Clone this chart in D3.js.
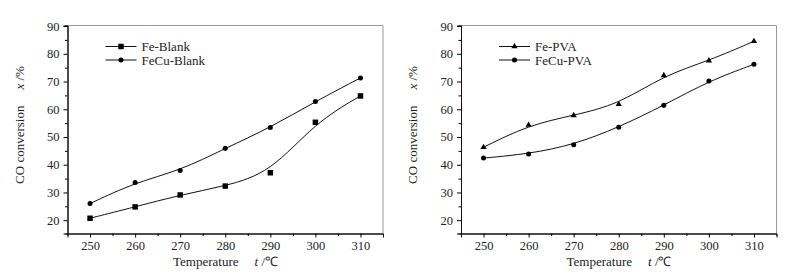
<!DOCTYPE html>
<html lang="en">
<head>
<meta charset="utf-8">
<title>CO conversion vs temperature</title>
<style>
  body { margin: 0; background: #fff; }
  svg { display: block; }
  svg text { font-family: "Liberation Serif", "Times New Roman", serif; fill: #222; }
  .tick text { font-size: 12.5px; }
</style>
<script src="https://d3js.org/d3.v7.min.js"></script>
</head>
<body>
<script>
let width = 797
let height = 277

let temps = [250, 260, 270, 280, 290, 300, 310]
let xTicks = [250, 260, 270, 280, 290, 300, 310]
let yTicks = [20, 30, 40, 50, 60, 70, 80, 90]

let feBlank = [20.7, 24.8, 29.1, 32.3, 37.1, 55.3, 64.8]
let fecuBlank = [26.0, 33.6, 37.9, 45.9, 53.4, 62.8, 71.3]
let fePVA = [46.3, 54.3, 57.8, 61.8, 72.2, 77.5, 84.5]
let fecuPVA = [42.4, 43.9, 47.2, 53.5, 61.4, 70.2, 76.2]

let panels = [
  { left: 67.5, series: [
      { name: "Fe-Blank", values: feBlank, marker: "square" },
      { name: "FeCu-Blank", values: fecuBlank, marker: "circle" }] },
  { left: 461, series: [
      { name: "Fe-PVA", values: fePVA, marker: "triangle" },
      { name: "FeCu-PVA", values: fecuPVA, marker: "circle" }] }
]

let svg = d3.select("body").append("svg")
  .attr("width", width)
  .attr("height", height)

let plotW = 315.5
let plotTop = 25.5
let plotBottom = 233.5

let symbolFor = (m) => {
  if (m === "square") return d3.symbol().type(d3.symbolSquare).size(30)
  if (m === "triangle") return d3.symbol().type(d3.symbolTriangle).size(17)
  return d3.symbol().type(d3.symbolCircle).size(20)
}

let drawPanel = (p) => {
  let x = d3.scaleLinear().domain([245, 315]).range([p.left, p.left + plotW])
  let y = d3.scaleLinear().domain([15.2, 90.2]).range([plotBottom, plotTop])
  let g = svg.append("g")

  // frame: top and right in grey
  g.append("line").attr("x1", p.left).attr("x2", p.left + plotW)
    .attr("y1", plotTop).attr("y2", plotTop).attr("stroke", "#9a9a9a")
  g.append("line").attr("x1", p.left + plotW).attr("x2", p.left + plotW)
    .attr("y1", plotTop).attr("y2", plotBottom).attr("stroke", "#9a9a9a")

  // minor ticks
  let xMinor = d3.axisBottom(x).tickValues(d3.range(255, 315, 10)).tickSize(2.5).tickFormat("")
  let yMinor = d3.axisLeft(y).tickValues(d3.range(25, 90, 10)).tickSize(2.5).tickFormat("")
  g.append("g").attr("transform", `translate(0,${plotBottom})`).call(xMinor)
  g.append("g").attr("transform", `translate(${p.left},0)`).call(yMinor)

  let xAxis = d3.axisBottom(x).tickValues(xTicks).tickSize(4).tickPadding(4)
  let yAxis = d3.axisLeft(y).tickValues(yTicks).tickSize(4).tickPadding(4)
  g.append("g").attr("transform", `translate(0,${plotBottom})`).call(xAxis)
  g.append("g").attr("transform", `translate(${p.left},0)`).call(yAxis)
  g.selectAll(".domain").attr("stroke", "#111")

  let line = d3.line()
    .x((d, i) => x(temps[i]))
    .y((d) => y(d))
    .curve(d3.curveBasis)

  p.series.forEach((s, k) => {
    g.append("path").datum(s.values)
      .attr("d", line)
      .attr("fill", "none")
      .attr("stroke", "#111")
      .attr("stroke-width", 1)
    g.selectAll(null).data(s.values).enter().append("path")
      .attr("d", symbolFor(s.marker)())
      .attr("transform", (d, i) => `translate(${x(temps[i])},${y(d)})`)
      .attr("fill", "#000")

    // legend
    let ly = 46.5 + k * 13.5
    let lx = p.left + 38
    g.append("line").attr("x1", lx).attr("x2", lx + 31)
      .attr("y1", ly).attr("y2", ly).attr("stroke", "#111")
    g.append("path").attr("d", symbolFor(s.marker)())
      .attr("transform", `translate(${lx + 15.5},${ly})`).attr("fill", "#000")
    g.append("text").attr("x", lx + 36).attr("y", ly + 4.5)
      .attr("font-size", 13).text(s.name)
  })

  // axis titles
  let xt = g.append("text")
    .attr("x", p.left + 158).attr("y", 266)
    .attr("text-anchor", "middle").attr("font-size", 13)
  xt.append("tspan").text("Temperature")
  xt.append("tspan").attr("dx", 16).attr("font-style", "italic").text("t")
  xt.append("tspan").text(" /\u2103")

  let yt = g.append("text")
    .attr("transform", `translate(${p.left - 44},125) rotate(-90)`)
    .attr("text-anchor", "middle").attr("font-size", 13)
  yt.append("tspan").text("CO conversion")
  yt.append("tspan").attr("dx", 16).attr("font-style", "italic").text("x")
  yt.append("tspan").text(" /%")
}

panels.forEach(drawPanel)
</script>
</body>
</html>
